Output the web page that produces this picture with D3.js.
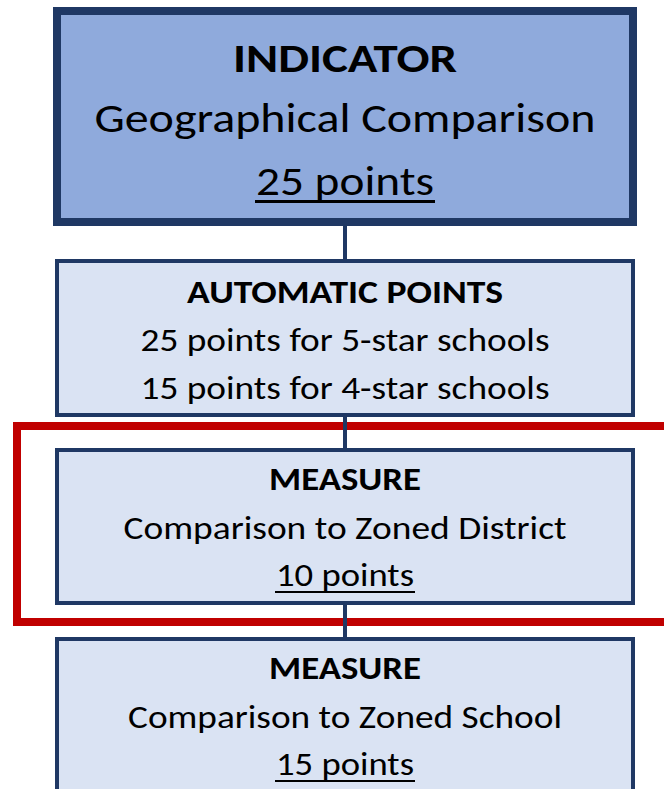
<!DOCTYPE html>
<html>
<head>
<meta charset="utf-8">
<script src="https://cdn.jsdelivr.net/npm/d3@7"></script>
<style>
  html, body { margin: 0; padding: 0; background: #fff; }
  svg { display: block; }
  text { font-family: Calibri, Carlito, Lato, sans-serif; fill: #000; }
</style>
</head>
<body>
<svg id="chart" width="664" height="789"></svg>
<script>
// flowchart content
var boxTitles = ["INDICATOR", "AUTOMATIC POINTS", "MEASURE", "MEASURE"];
var boxLines = [
  ["Geographical Comparison"],
  ["25 points for 5-star schools", "15 points for 4-star schools"],
  ["Comparison to Zoned District"],
  ["Comparison to Zoned School"]
];
var boxPoints = [25, null, 10, 15];
var highlighted = 2; // box wrapped by the red frame

// layout
var layout = [
  { top: 11,  bottom: 222, stroke: 8, fill: "#8FAADC", size: 41,   baselines: [72, 132, 195],  widths: [224, 501, 178] },
  { top: 261, bottom: 415, stroke: 4, fill: "#DAE3F3", size: 32.5, baselines: [303, 351, 399], widths: [316, 409, 409] },
  { top: 450, bottom: 603, stroke: 4, fill: "#DAE3F3", size: 32.5, baselines: [490, 539, 586], widths: [152, 443, 138] },
  { top: 639, bottom: 800, stroke: 4, fill: "#DAE3F3", size: 32.5, baselines: [679, 728, 775], widths: [152, 434, 138] }
];

var svg = d3.select("#chart"),
  width = +svg.attr("width"),
  cx = 345,
  navy = "#1F3864",
  red = "#C00000";

var x = d3.scaleLinear().domain([0, 1]).range([57, 633]);

var boxes = boxTitles.map(function(t, i) {
  var lines = [{ text: t, bold: true }];
  boxLines[i].forEach(function(l) { lines.push({ text: l }); });
  if (boxPoints[i] != null) lines.push({ text: boxPoints[i] + " points", under: true });
  return { i: i, lines: lines, lay: layout[i] };
});

// red frame round the highlighted measure
var hl = layout[highlighted];
svg.append("rect")
  .attr("x", 17)
  .attr("y", hl.top - 24)
  .attr("width", width + 40)
  .attr("height", hl.bottom - hl.top + 43)
  .attr("fill", "none")
  .attr("stroke", red)
  .attr("stroke-width", 8);

// connectors
svg.append("g").selectAll("line")
  .data(d3.pairs(boxes))
  .enter().append("line")
    .attr("x1", cx).attr("x2", cx)
    .attr("y1", function(d) { return d[0].lay.bottom; })
    .attr("y2", function(d) { return d[1].lay.top; })
    .attr("stroke", navy)
    .attr("stroke-width", 4);

var g = svg.append("g").selectAll("g")
  .data(boxes)
  .enter().append("g");

g.append("rect")
  .attr("x", x(0))
  .attr("y", function(d) { return d.lay.top; })
  .attr("width", x(1) - x(0))
  .attr("height", function(d) { return d.lay.bottom - d.lay.top; })
  .attr("fill", function(d) { return d.lay.fill; })
  .attr("stroke", navy)
  .attr("stroke-width", function(d) { return d.lay.stroke; });

g.each(function(b) {
  var grp = d3.select(this);
  b.lines.forEach(function(l, j) {
    var t = grp.append("text")
      .attr("x", cx)
      .attr("y", b.lay.baselines[j])
      .attr("text-anchor", "middle")
      .attr("font-size", b.lay.size)
      .attr("font-weight", l.bold ? 700 : 400)
      .attr("textLength", b.lay.widths[j])
      .attr("lengthAdjust", "spacingAndGlyphs")
      .text(l.text);
    if (l.under) {
      var w = b.lay.widths[j] + 2,
        th = b.i === 0 ? 3 : 2;
      grp.append("rect")
        .attr("x", cx - w / 2)
        .attr("y", b.lay.baselines[j] + (b.i === 0 ? 5 : 5))
        .attr("width", w)
        .attr("height", th)
        .attr("fill", "#000");
    }
  });
});
</script>
</body>
</html>
